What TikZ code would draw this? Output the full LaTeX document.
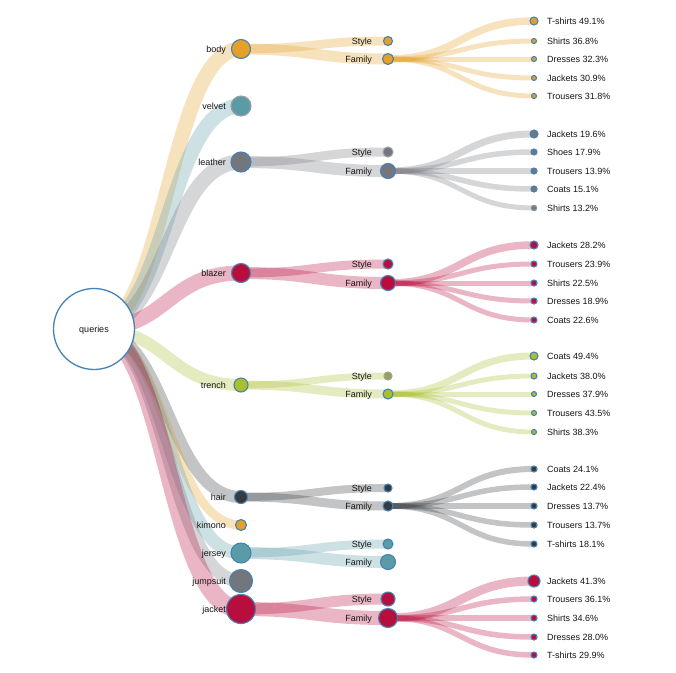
\documentclass[tikz,border=0pt]{standalone}
\usepackage{fontspec}
\setmainfont{Liberation Sans}
\usetikzlibrary{calc,backgrounds}
\definecolor{qsteel}{RGB}{70,130,180}
\definecolor{qgrey}{RGB}{158,158,158}
\definecolor{qorange}{RGB}{228,160,40}
\definecolor{qteal}{RGB}{91,155,168}
\definecolor{qslate}{RGB}{115,118,125}
\definecolor{qcrimson}{RGB}{184,14,62}
\definecolor{qolive}{RGB}{170,190,46}
\definecolor{qdark}{RGB}{52,58,62}
\tikzset{
  dot/.style={circle,draw=qsteel,line width=1.1pt,inner sep=0pt,minimum size=2*#1-1},
  band/.style={line width=#1,opacity=0.3},
  diag/.style={to path={let \p1=(\tikztostart), \p2=(\tikztotarget) in
    .. controls ({(\x1+\x2)/2},\y1) and ({(\x1+\x2)/2},\y2) .. (\tikztotarget)}},
  txt/.style={font=\fontsize{9}{10}\selectfont,text=black!92,inner sep=0pt},
  lvl/.style={txt,anchor=base east},
  leaf/.style={txt,anchor=base west}
}

\begin{document}
\begin{tikzpicture}[x=1pt,y=-1pt]
  \useasboundingbox (0,0) rectangle (676,672);
  % Root
  \node[dot=41,fill=white,line width=1.3pt] (queries) at (94,329) {};
  \node[txt,anchor=base] (queriesT) at (94,332.1) {queries};
  % First level
  \node[dot=10,fill=qorange] (body) at (241,49) {};
  \node[lvl] (bodyT) at (226,52.1) {body};
  \node[dot=10.5,fill=qteal,draw=qgrey] (velvet) at (241,106) {};
  \node[lvl] (velvetT) at (226,109.1) {velvet};
  \node[dot=10.5,fill=qslate] (leather) at (241,162) {};
  \node[lvl] (leatherT) at (226,165.1) {leather};
  \node[dot=10,fill=qcrimson] (blazer) at (241,273) {};
  \node[lvl] (blazerT) at (226,276.1) {blazer};
  \node[dot=7.5,fill=qolive] (trench) at (241,385) {};
  \node[lvl] (trenchT) at (226,388.1) {trench};
  \node[dot=7,fill=qdark] (hair) at (241,497) {};
  \node[lvl] (hairT) at (226,500.1) {hair};
  \node[dot=6,fill=qorange] (kimono) at (241,525) {};
  \node[lvl] (kimonoT) at (226,528.1) {kimono};
  \node[dot=10.5,fill=qteal] (jersey) at (241,553) {};
  \node[lvl] (jerseyT) at (226,556.1) {jersey};
  \node[dot=12,fill=qslate] (jumpsuit) at (241,581) {};
  \node[lvl] (jumpsuitT) at (226,584.1) {jumpsuit};
  \node[dot=15,fill=qcrimson] (jacket) at (241,609) {};
  \node[lvl] (jacketT) at (226,612.1) {jacket};
  % Second level
  \node[dot=5,fill=qorange] (bodyS) at (388,41) {};
  \node[lvl] (bodyST) at (372,44.1) {Style};
  \node[dot=6,fill=qorange] (bodyF) at (388,59) {};
  \node[lvl] (bodyFT) at (372,62.1) {Family};
  \node[dot=5.5,fill=qslate,draw=qgrey] (leatherS) at (388,152) {};
  \node[lvl] (leatherST) at (372,155.1) {Style};
  \node[dot=8,fill=qslate] (leatherF) at (388,171) {};
  \node[lvl] (leatherFT) at (372,174.1) {Family};
  \node[dot=5.5,fill=qcrimson] (blazerS) at (388,264) {};
  \node[lvl] (blazerST) at (372,267.1) {Style};
  \node[dot=8,fill=qcrimson] (blazerF) at (388,283) {};
  \node[lvl] (blazerFT) at (372,286.1) {Family};
  \node[dot=4.5,fill=qolive!55!gray,draw=qgrey] (trenchS) at (388,376) {};
  \node[lvl] (trenchST) at (372,379.1) {Style};
  \node[dot=5.5,fill=qolive] (trenchF) at (388,394) {};
  \node[lvl] (trenchFT) at (372,397.1) {Family};
  \node[dot=4.5,fill=qdark] (hairS) at (388,488) {};
  \node[lvl] (hairST) at (372,491.1) {Style};
  \node[dot=5.5,fill=qdark] (hairF) at (388,506) {};
  \node[lvl] (hairFT) at (372,509.1) {Family};
  \node[dot=5.5,fill=qteal] (jerseyS) at (388,544) {};
  \node[lvl] (jerseyST) at (372,547.1) {Style};
  \node[dot=8,fill=qteal] (jerseyF) at (388,562) {};
  \node[lvl] (jerseyFT) at (372,565.1) {Family};
  \node[dot=7.5,fill=qcrimson] (jacketS) at (388,599) {};
  \node[lvl] (jacketST) at (372,602.1) {Style};
  \node[dot=10,fill=qcrimson] (jacketF) at (388,618) {};
  \node[lvl] (jacketFT) at (372,621.1) {Family};
  % Links root -> first level -> second level
  \begin{scope}[on background layer]
    \draw[band=15,qorange] (queries.center) to[diag] (body.center);
    \draw[band=15,qteal] (queries.center) to[diag] (velvet.center);
    \draw[band=15,qslate] (queries.center) to[diag] (leather.center);
    \draw[band=15,qcrimson] (queries.center) to[diag] (blazer.center);
    \draw[band=12,qolive] (queries.center) to[diag] (trench.center);
    \draw[band=12,qdark] (queries.center) to[diag] (hair.center);
    \draw[band=9,qorange] (queries.center) to[diag] (kimono.center);
    \draw[band=13,qteal] (queries.center) to[diag] (jersey.center);
    \draw[band=13,qslate] (queries.center) to[diag] (jumpsuit.center);
    \draw[band=18,qcrimson] (queries.center) to[diag] (jacket.center);
    \draw[band=9,qorange] (body.center) to[diag] (bodyS.center);
    \draw[band=11,qorange] (body.center) to[diag] (bodyF.center);
    \draw[band=9,qslate] (leather.center) to[diag] (leatherS.center);
    \draw[band=12,qslate] (leather.center) to[diag] (leatherF.center);
    \draw[band=9,qcrimson] (blazer.center) to[diag] (blazerS.center);
    \draw[band=12,qcrimson] (blazer.center) to[diag] (blazerF.center);
    \draw[band=7,qolive] (trench.center) to[diag] (trenchS.center);
    \draw[band=9,qolive] (trench.center) to[diag] (trenchF.center);
    \draw[band=8,qdark] (hair.center) to[diag] (hairS.center);
    \draw[band=9,qdark] (hair.center) to[diag] (hairF.center);
    \draw[band=9,qteal] (jersey.center) to[diag] (jerseyS.center);
    \draw[band=12,qteal] (jersey.center) to[diag] (jerseyF.center);
    \draw[band=11,qcrimson] (jacket.center) to[diag] (jacketS.center);
    \draw[band=14,qcrimson] (jacket.center) to[diag] (jacketF.center);
  \end{scope}
  % Leaves
  \foreach \i/\y/\t/\r/\w in {1/21/T-shirts 49.1\%/4.5/7.5, 2/41/Shirts 36.8\%/3/5,
      3/59/Dresses 32.3\%/3/5, 4/78/Jackets 30.9\%/3/5, 5/96/Trousers 31.8\%/3/5}{
    \node[dot=\r,fill=qorange] (bodyL\i) at (534,\y) {};
    \node[leaf] (bodyLT\i) at (547,\y+3.1) {\t};
    \begin{scope}[on background layer]
      \draw[band=\w,qorange] (bodyF.center) to[diag] (bodyL\i.center);
    \end{scope}
  }
  \foreach \i/\y/\t/\r/\w in {1/134/Jackets 19.6\%/4.5/7, 2/152/Shoes 17.9\%/3.5/5.5,
      3/171/Trousers 13.9\%/3.5/5.5, 4/189/Coats 15.1\%/3.5/5.5, 5/208/Shirts 13.2\%/3/5}{
    \node[dot=\r,fill=qslate] (leatherL\i) at (534,\y) {};
    \node[leaf] (leatherLT\i) at (547,\y+3.1) {\t};
    \begin{scope}[on background layer]
      \draw[band=\w,qslate] (leatherF.center) to[diag] (leatherL\i.center);
    \end{scope}
  }
  \node[dot=3,fill=qslate,draw=qslate!80] at (leatherL5) {};
  \foreach \i/\y/\t/\r/\w in {1/245/Jackets 28.2\%/4.5/7.5, 2/264/Trousers 23.9\%/3.5/5,
      3/283/Shirts 22.5\%/3.5/5, 4/301/Dresses 18.9\%/3.5/5, 5/320/Coats 22.6\%/3.5/5}{
    \node[dot=\r,fill=qcrimson] (blazerL\i) at (534,\y) {};
    \node[leaf] (blazerLT\i) at (547,\y+3.1) {\t};
    \begin{scope}[on background layer]
      \draw[band=\w,qcrimson] (blazerF.center) to[diag] (blazerL\i.center);
    \end{scope}
  }
  \foreach \i/\y/\t/\r/\w in {1/356/Coats 49.4\%/4.5/7, 2/376/Jackets 38.0\%/3.5/5,
      3/394/Dresses 37.9\%/3/5, 4/413/Trousers 43.5\%/3/5, 5/432/Shirts 38.3\%/3/5}{
    \node[dot=\r,fill=qolive] (trenchL\i) at (534,\y) {};
    \node[leaf] (trenchLT\i) at (547,\y+3.1) {\t};
    \begin{scope}[on background layer]
      \draw[band=\w,qolive] (trenchF.center) to[diag] (trenchL\i.center);
    \end{scope}
  }
  \foreach \i/\y/\t/\r/\w in {1/469/Coats 24.1\%/3.5/6, 2/487/Jackets 22.4\%/3.5/5.5,
      3/506/Dresses 13.7\%/3.5/5.5, 4/525/Trousers 13.7\%/3.5/5.5, 5/544/T-shirts 18.1\%/3.5/5.5}{
    \node[dot=\r,fill=qdark] (hairL\i) at (534,\y) {};
    \node[leaf] (hairLT\i) at (547,\y+3.1) {\t};
    \begin{scope}[on background layer]
      \draw[band=\w,qdark] (hairF.center) to[diag] (hairL\i.center);
    \end{scope}
  }
  \foreach \i/\y/\t/\r/\w in {1/581/Jackets 41.3\%/6.5/9, 2/599/Trousers 36.1\%/3.5/5.5,
      3/618/Shirts 34.6\%/3.5/5.5, 4/637/Dresses 28.0\%/3.5/5.5, 5/655/T-shirts 29.9\%/3.5/5.5}{
    \node[dot=\r,fill=qcrimson] (jacketL\i) at (534,\y) {};
    \node[leaf] (jacketLT\i) at (547,\y+3.1) {\t};
    \begin{scope}[on background layer]
      \draw[band=\w,qcrimson] (jacketF.center) to[diag] (jacketL\i.center);
    \end{scope}
  }
\end{tikzpicture}
\end{document}
